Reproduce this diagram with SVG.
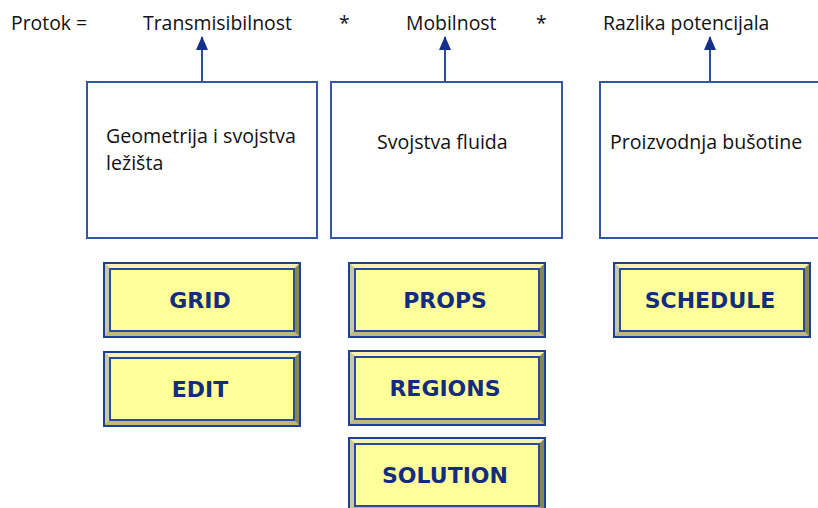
<svg xmlns="http://www.w3.org/2000/svg" width="818" height="508" viewBox="0 0 818 508">
<defs>
<style>
.t{font-family:"Open Sans","Liberation Sans",sans-serif;font-size:19.4px;fill:#111}
.bt{font-family:"Open Sans","Liberation Sans",sans-serif;font-size:19.6px;fill:#111}
.box{fill:#fff;stroke:#3556a6;stroke-width:2}
.btxt{font-family:"DejaVu Sans","Liberation Sans",sans-serif;font-weight:bold;font-size:22px;fill:#142c80;text-anchor:middle}
.conn{stroke:#2a4c9e;stroke-width:2;fill:none}
</style>
<marker id="ah" markerWidth="14" markerHeight="12" refX="13" refY="6" orient="auto" markerUnits="userSpaceOnUse" viewBox="0 0 14 12">
<path d="M0,0 L14,6 L0,12 Z" fill="#13318a"/>
</marker>
<g id="btn">
<rect x="0" y="0" width="198" height="76" fill="#1f3f95"/>
<rect x="2" y="2" width="194" height="72" fill="#8a8650"/>
<polygon points="2,2 196,2 192,6 6,6" fill="#f5f2b8"/>
<polygon points="2,2 6,6 6,70 2,74" fill="#c9c8a6"/>
<polygon points="2,74 6,70 192,70 196,74" fill="#c2b878"/>
<rect x="6" y="6" width="186" height="64" fill="#2a4a9c"/>
<rect x="8" y="8" width="182" height="60" fill="#ffff99"/>
</g>
</defs>
<rect width="818" height="508" fill="#fff"/>

<g id="formula">
<text class="t" x="11" y="30">Protok =</text>
<text class="t" x="143" y="30">Transmisibilnost</text>
<text class="t" x="339" y="30">*</text>
<text class="t" x="406" y="30">Mobilnost</text>
<text class="t" x="536" y="30">*</text>
<text class="t" x="603" y="30">Razlika potencijala</text>
</g>

<g id="connectors">
<line class="conn" x1="202" y1="82" x2="202" y2="37" marker-end="url(#ah)"/>
<line class="conn" x1="445" y1="82" x2="445" y2="37" marker-end="url(#ah)"/>
<line class="conn" x1="710" y1="82" x2="710" y2="37" marker-end="url(#ah)"/>
</g>

<g id="box-geometrija">
<rect class="box" x="87" y="82" width="230" height="156"/>
<text class="bt" x="106" y="143">Geometrija i svojstva</text>
<text class="bt" x="106" y="170">ležišta</text>
</g>
<g id="box-fluid">
<rect class="box" x="331" y="82" width="231" height="156"/>
<text class="bt" x="377" y="149">Svojstva fluida</text>
</g>
<g id="box-proizvodnja">
<rect class="box" x="600" y="82" width="230" height="156"/>
<text class="bt" x="610" y="149">Proizvodnja bušotine</text>
</g>

<g id="btn-grid" transform="translate(103,262)">
<use href="#btn"/>
<text class="btxt" x="97" y="46">GRID</text>
</g>
<g id="btn-edit" transform="translate(103,351)">
<use href="#btn"/>
<text class="btxt" x="97" y="46">EDIT</text>
</g>
<g id="btn-props" transform="translate(348,262)">
<use href="#btn"/>
<text class="btxt" x="97" y="46">PROPS</text>
</g>
<g id="btn-regions" transform="translate(348,350)">
<use href="#btn"/>
<text class="btxt" x="97" y="46">REGIONS</text>
</g>
<g id="btn-solution" transform="translate(348,437)">
<use href="#btn"/>
<text class="btxt" x="97" y="46">SOLUTION</text>
</g>
<g id="btn-schedule" transform="translate(613,262)">
<use href="#btn"/>
<text class="btxt" x="97" y="46">SCHEDULE</text>
</g>
</svg>
